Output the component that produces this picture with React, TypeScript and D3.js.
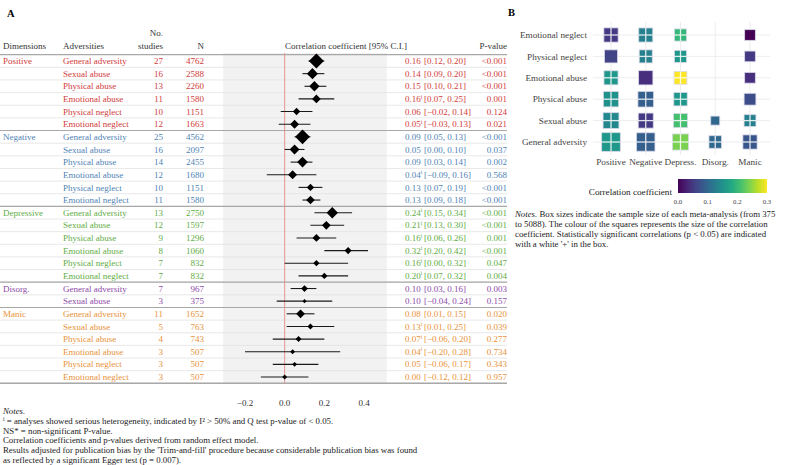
import React from 'react';
import * as d3 from 'd3';

// Panel A data: one entry per row, top to bottom
const dimensions = ['Positive', 'Negative', 'Depressive', 'Disorg.', 'Manic'];
const dimShort = ['Positive', 'Negative', 'Depress.', 'Disorg.', 'Manic'];
const dimColors = ['#d13b3b', '#4f83b5', '#62ad45', '#8d4aa8', '#e8923a'];

const rowGroup = [0, 0, 0, 0, 0, 0, 1, 1, 1, 1, 1, 1, 2, 2, 2, 2, 2, 2, 3, 3, 4, 4, 4, 4, 4, 4];
const rowAdversity = [
  'General adversity', 'Sexual abuse', 'Physical abuse', 'Emotional abuse', 'Physical neglect', 'Emotional neglect',
  'General adversity', 'Sexual abuse', 'Physical abuse', 'Emotional abuse', 'Physical neglect', 'Emotional neglect',
  'General adversity', 'Sexual abuse', 'Physical abuse', 'Emotional abuse', 'Physical neglect', 'Emotional neglect',
  'General adversity', 'Sexual abuse',
  'General adversity', 'Sexual abuse', 'Physical abuse', 'Emotional abuse', 'Physical neglect', 'Emotional neglect',
];
const nStudies = [27, 16, 13, 11, 10, 12, 25, 16, 14, 12, 10, 11, 13, 12, 9, 8, 7, 7, 7, 3, 11, 5, 4, 3, 3, 3];
const sampleN = [4762, 2588, 2260, 1580, 1151, 1663, 4562, 2097, 2455, 1680, 1151, 1580, 2750, 1597, 1296, 1060, 832, 832, 967, 375, 1652, 763, 743, 507, 507, 507];
const estimate = [0.16, 0.14, 0.15, 0.16, 0.06, 0.05, 0.09, 0.05, 0.09, 0.04, 0.13, 0.13, 0.24, 0.21, 0.16, 0.32, 0.16, 0.20, 0.10, 0.10, 0.08, 0.13, 0.07, 0.04, 0.05, 0.00];
const ciLow = [0.12, 0.09, 0.10, 0.07, -0.02, -0.03, 0.05, 0.00, 0.03, -0.09, 0.07, 0.09, 0.15, 0.13, 0.06, 0.20, 0.00, 0.07, 0.03, -0.04, 0.01, 0.01, -0.06, -0.20, -0.06, -0.12];
const ciHigh = [0.20, 0.20, 0.21, 0.25, 0.14, 0.13, 0.13, 0.10, 0.14, 0.16, 0.19, 0.18, 0.34, 0.30, 0.26, 0.42, 0.32, 0.32, 0.16, 0.24, 0.15, 0.25, 0.20, 0.28, 0.17, 0.12];
const pValue = [
  '<0.001', '<0.001', '<0.001', '0.001', '0.124', '0.021',
  '<0.001', '0.037', '0.002', '0.568', '<0.001', '<0.001',
  '<0.001', '<0.001', '0.001', '<0.001', '0.047', '0.004',
  '0.003', '0.157',
  '0.020', '0.039', '0.277', '0.734', '0.343', '0.957',
];
const heterogeneous = [0, 0, 0, 1, 0, 1, 0, 0, 0, 1, 0, 0, 1, 1, 1, 1, 1, 1, 0, 0, 0, 1, 1, 1, 0, 0];
const xTicks = [-0.2, 0.0, 0.2, 0.4];

// Panel B
const heatRows = ['Emotional neglect', 'Physical neglect', 'Emotional abuse', 'Physical abuse', 'Sexual abuse', 'General adversity'];
const colorTicks = [0, 0.1, 0.2, 0.3];

const notesA = [
  '= analyses showed serious heterogeneity, indicated by I² > 50% and Q test p-value of < 0.05.',
  'NS* = non-significant P-value.',
  'Correlation coefficients and p-values derived from random effect model.',
  "Results adjusted for publication bias by the 'Trim-and-fill' procedure because considerable publication bias was found",
  'as reflected by a significant Egger test (p = 0.007).',
];
const notesB = [
  'Box sizes indicate the sample size of each meta-analysis (from 375',
  'to 5088). The colour of the squares represents the size of the correlation',
  'coefficient. Statistically significant correlations (p < 0.05) are indicated',
  "with a white '+' in the box.",
];

const FONT = '"Liberation Serif", "DejaVu Serif", serif';
const fmt = d3.format('.2f');

export default function App() {
  const rowH = 12.64;
  const y0 = 61;
  const rowY = (i: number) => y0 + i * rowH;
  const tableTop = 53;
  const tableBottom = rowY(rowAdversity.length - 1) + rowH / 2;
  const fs = 9;

  const x = d3.scaleLinear().domain([-0.2, 0.4]).range([245, 364]);
  const diamond = d3.scaleSqrt().domain([0, 4762]).range([0, 7.5]);

  // Panel B scales
  const colX = d3.scalePoint<number>().domain(d3.range(5)).range([611, 750]);
  const rowYB = d3.scalePoint<string>().domain(heatRows).range([35, 142]);
  const color = d3.scaleSequential(d3.interpolateViridis).domain([0, 0.3]).clamp(true);
  const side = (n: number) => 9 + 10 * Math.sqrt(Math.max(0, (n - 375) / (5088 - 375)));
  const cbX = d3.scaleLinear().domain([0, 0.3]).range([678, 767]);

  const groupStarts = rowGroup.map((g, i) => (i === 0 || rowGroup[i - 1] !== g ? i : -1)).filter(i => i >= 0);

  return (
    <svg width={785} height={465} style={{ position: 'absolute', left: 0, top: 0, fontFamily: FONT }}>
      <rect width={785} height={465} fill="#fff" />
      <text x={7} y={17} fontSize={10.5} fontWeight="bold">A</text>
      <text x={508} y={16} fontSize={10.5} fontWeight="bold">B</text>

      {/* header */}
      <g fontSize={fs} fill="#333">
        <text x={163} y={36} textAnchor="end">No.</text>
        <text x={163} y={49} textAnchor="end">studies</text>
        <text x={3} y={49}>Dimensions</text>
        <text x={63} y={49}>Adversities</text>
        <text x={204} y={49} textAnchor="end">N</text>
        <text x={346} y={49} textAnchor="middle">Correlation coefficient [95% C.I.]</text>
        <text x={507} y={49} textAnchor="end">P-value</text>
      </g>

      {/* shaded plot band */}
      <rect x={x(-0.31)} y={tableTop} width={x(0.515) - x(-0.31)} height={tableBottom - tableTop} fill="#f2f2f2" />

      {/* row separators */}
      {rowAdversity.map((_, i) => (
        <line key={'s' + i} x1={0} x2={507} y1={rowY(i) + rowH / 2} y2={rowY(i) + rowH / 2} stroke="#e2e2e2" strokeWidth={0.8} />
      ))}
      {groupStarts.map(i => (
        <line key={'g' + i} x1={0} x2={507} y1={rowY(i) - rowH / 2} y2={rowY(i) - rowH / 2} stroke="#a8a8a8" strokeWidth={1.2} />
      ))}
      <line x1={0} x2={507} y1={tableBottom} y2={tableBottom} stroke="#a8a8a8" strokeWidth={1.5} />

      {/* zero line */}
      <line x1={x(0)} x2={x(0)} y1={tableTop} y2={tableBottom} stroke="#e58a8a" strokeWidth={0.9} />

      {/* rows */}
      {rowAdversity.map((adv, i) => {
        const c = dimColors[rowGroup[i]];
        const y = rowY(i) + 3.1;
        const h = diamond(sampleN[i]);
        return (
          <g key={'r' + i}>
            <g fontSize={fs} fill={c}>
              {groupStarts.includes(i) && <text x={3} y={y}>{dimensions[rowGroup[i]]}</text>}
              <text x={63} y={y}>{adv}</text>
              <text x={163} y={y} textAnchor="end">{nStudies[i]}</text>
              <text x={204} y={y} textAnchor="end">{sampleN[i]}</text>
              <text x={405} y={y}>
                {fmt(estimate[i])}
                {heterogeneous[i] ? <tspan fontSize={5.5} dy={-3.5}>i</tspan> : null}
              </text>
              <text x={424} y={y}>{`[${fmt(ciLow[i])}, ${fmt(ciHigh[i])}]`}</text>
              <text x={507} y={y} textAnchor="end">{pValue[i]}</text>
            </g>
            <line x1={x(ciLow[i])} x2={x(ciHigh[i])} y1={rowY(i)} y2={rowY(i)} stroke="#1a1a1a" strokeWidth={1.1} />
            <path
              d={`M${x(estimate[i]) - h},${rowY(i)}L${x(estimate[i])},${rowY(i) - h}L${x(estimate[i]) + h},${rowY(i)}L${x(estimate[i])},${rowY(i) + h}Z`}
              fill="#000"
            />
          </g>
        );
      })}

      {/* x axis labels */}
      {xTicks.map(t => (
        <text key={'xt' + t} x={x(t)} y={406} fontSize={fs} textAnchor="middle" fill="#333">{d3.format('.1f')(t)}</text>
      ))}

      {/* notes A */}
      <g fontSize={8.8} fill="#222">
        <text x={3} y={414} fontStyle="italic">Notes.</text>
        {notesA.map((t, i) => (
          <text key={'na' + i} x={3} y={424 + i * 9.7}>
            {i === 0 ? <><tspan fontSize={5.5} dy={-3}>i</tspan><tspan dy={3}>{' ' + t}</tspan></> : t}
          </text>
        ))}
      </g>

      {/* Panel B grid */}
      {heatRows.map(r => (
        <line key={'hg' + r} x1={593} x2={770} y1={rowYB(r)} y2={rowYB(r)} stroke="#ebebeb" strokeWidth={0.9} />
      ))}
      {dimShort.map((_, j) => (
        <line key={'vg' + j} x1={colX(j)} x2={colX(j)} y1={22} y2={155} stroke="#ebebeb" strokeWidth={0.9} />
      ))}
      {heatRows.map(r => (
        <text key={'hl' + r} x={587} y={(rowYB(r) as number) + 3.2} fontSize={9.2} textAnchor="end" fill="#444">{r}</text>
      ))}
      {dimShort.map((d, j) => (
        <text key={'cl' + j} x={colX(j)} y={165} fontSize={9.2} textAnchor="middle" fill="#444">{d}</text>
      ))}
      {rowAdversity.map((adv, i) => {
        const cx = colX(rowGroup[i]) as number;
        const cy = rowYB(adv) as number;
        const s = side(sampleN[i]);
        const p = pValue[i].startsWith('<') ? 0 : +pValue[i];
        return (
          <g key={'sq' + i}>
            <rect x={cx - s / 2} y={cy - s / 2} width={s} height={s} fill={color(estimate[i])} stroke="#d8d8e8" strokeWidth={0.8} />
            {p < 0.05 && (
              <g stroke="#fff" strokeWidth={1.3} opacity={0.85}>
                <line x1={cx - s / 2} x2={cx + s / 2} y1={cy} y2={cy} />
                <line x1={cx} x2={cx} y1={cy - s / 2} y2={cy + s / 2} />
              </g>
            )}
          </g>
        );
      })}

      {/* colour bar */}
      <defs>
        <linearGradient id="vir" x1="0" x2="1" y1="0" y2="0">
          {d3.range(0, 1.01, 0.1).map(t => (
            <stop key={t} offset={t} stopColor={d3.interpolateViridis(t)} />
          ))}
        </linearGradient>
      </defs>
      <rect x={cbX(0)} y={179} width={cbX(0.3) - cbX(0)} height={14} fill="url(#vir)" />
      <text x={672} y={194.5} fontSize={9.2} textAnchor="end" fill="#222">Correlation coefficient</text>
      {colorTicks.map(t => (
        <text key={'ct' + t} x={cbX(t)} y={204} fontSize={6.8} textAnchor="middle" fill="#444">{d3.format('.1f')(t)}</text>
      ))}

      {/* notes B */}
      <g fontSize={8.8} fill="#222">
        {notesB.map((t, i) => (
          <text key={'nb' + i} x={515} y={216.5 + i * 10.2}>
            {i === 0 ? <><tspan fontStyle="italic">Notes.</tspan>{' ' + t}</> : t}
          </text>
        ))}
      </g>
    </svg>
  );
}
